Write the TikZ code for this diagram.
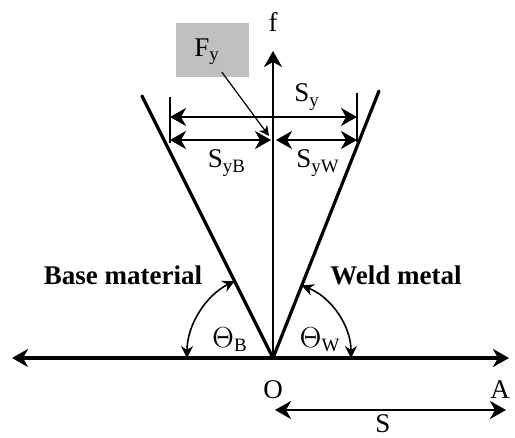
\documentclass[tikz,border=0pt]{standalone}
\usepackage{fontspec}
\setmainfont{Liberation Serif}
\usetikzlibrary{arrows.meta}
\definecolor{boxgray}{HTML}{C0C0C0}

\begin{document}
\begin{tikzpicture}[x=0.5pt, y=-0.5pt, >={Stealth[length=8pt, width=9pt, inset=2.5pt]},
    font=\fontsize{13.5}{16}\selectfont]
  \useasboundingbox (0,0) rectangle (515,438);

  % Achsen und Schenkel
  \coordinate (O) at (273,358);
  \coordinate (xl) at (12,358);
  \coordinate (xr) at (509,358);
  \coordinate (ftop) at (273,51);
  \coordinate (bl) at (142,96);
  \coordinate (wl) at (379,91);
  \draw[<->, line width=2pt] (xl) -- (xr);
  \draw[->, line width=1.2pt] (O) -- (ftop);
  \draw[line width=1.6pt, line cap=round] (O) -- (bl);
  \draw[line width=1.6pt, line cap=round] (O) -- (wl);
  \node (f) at (273,22) {f};
  \node (o) at (273,390) {O};
  \node (a) at (500,390) {A};

  % Breiten S_y
  \coordinate (tl1) at (170,97);
  \coordinate (tl2) at (170,143);
  \coordinate (tr1) at (357,93);
  \coordinate (tr2) at (357,142);
  \draw[line width=1pt] (tl1) -- (tl2);
  \draw[line width=1pt] (tr1) -- (tr2);
  \coordinate (syl) at (170,117);
  \coordinate (syr) at (357,117);
  \draw[<->, line width=1.1pt] (syl) -- (syr);
  \node (sy) at (307,97) {S\textsubscript{y}};
  \coordinate (sybl) at (170,140);
  \coordinate (sybr) at (271,140);
  \coordinate (sywl) at (276,140);
  \coordinate (sywr) at (357,140);
  \draw[<->, line width=1.1pt] (sybl) -- (sybr);
  \draw[<->, line width=1.1pt] (sywl) -- (sywr);
  \node (syb) at (227,163) {S\textsubscript{yB}};
  \node (syw) at (318,163) {S\textsubscript{yW}};

  % Kasten F_y
  \node[fill=boxgray, minimum width=36.5pt, minimum height=27pt] (box) at (212.5,50) {};
  \node (fy) at (207,52) {F\textsubscript{y}};
  \coordinate (fytip) at (269,136);
  \draw[->, >={Stealth[length=5pt, width=5pt, inset=1.5pt]}, line width=0.6pt] (fy) -- (fytip);

  % Winkel
  \draw[<->, >={Stealth[length=6pt, width=6pt, inset=2pt]}, line width=0.8pt]
    ([shift={(180:86)}]O) arc[start angle=180, end angle=243.5, radius=86];
  \draw[<->, >={Stealth[length=6pt, width=6pt, inset=2pt]}, line width=0.8pt]
    ([shift={(-68.4:78)}]O) arc[start angle=-68.4, end angle=0, radius=78];
  \node (thb) at (230,340) {$\Theta$\textsubscript{B}};
  \node (thw) at (320,340) {$\Theta$\textsubscript{W}};
  \node[font=\fontsize{13.5}{16}\selectfont\bfseries] (base) at (123,275) {Base material};
  \node[font=\fontsize{13.5}{16}\selectfont\bfseries] (weld) at (396,275) {Weld metal};

  % Abstand S
  \coordinate (sl) at (275,410);
  \coordinate (sr) at (506,410);
  \draw[<->, line width=1.1pt] (sl) -- (sr);
  \node[inner sep=0pt] (s) at (383,424) {S};
\end{tikzpicture}
\end{document}
